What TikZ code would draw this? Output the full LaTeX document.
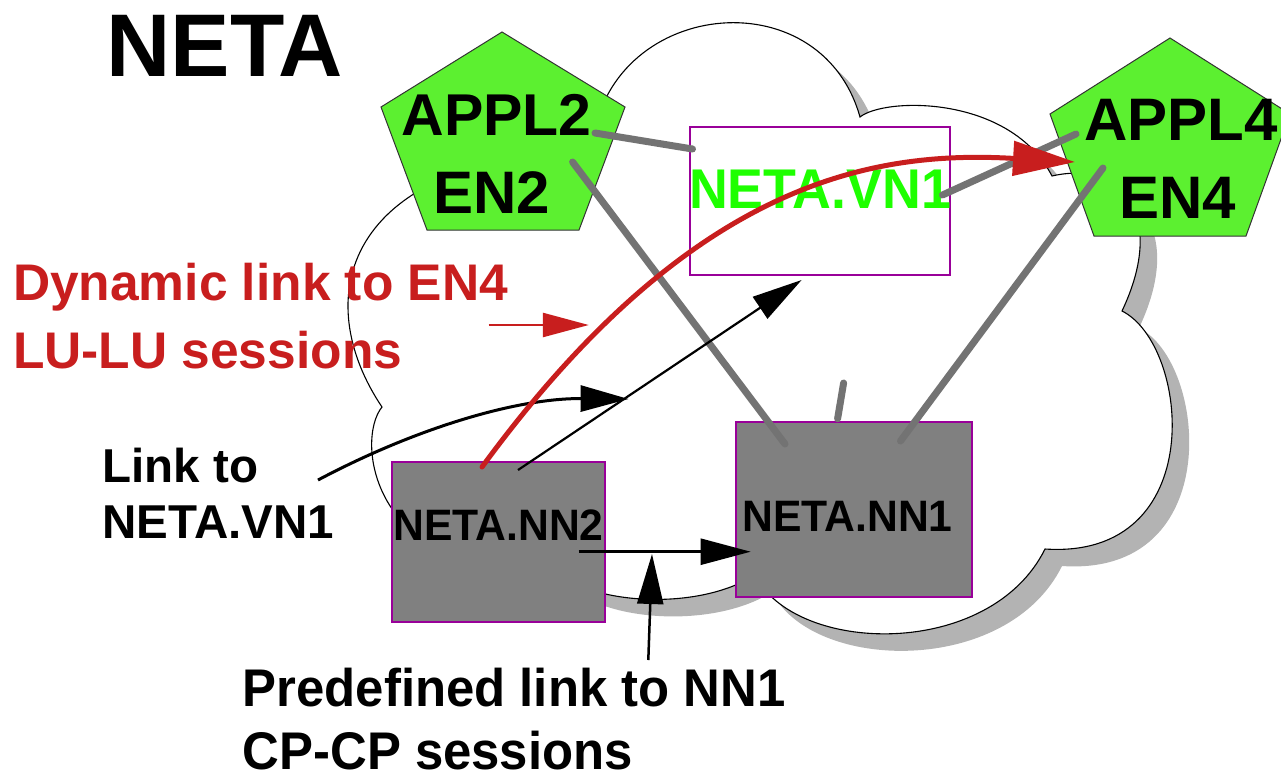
\documentclass[tikz,border=0pt]{standalone}
\usepackage{fontspec}
\setmainfont{Liberation Sans}
\usetikzlibrary{arrows.meta,calc}

\definecolor{cloudshadow}{RGB}{179,179,179}
\definecolor{boxpurple}{RGB}{153,0,153}
\definecolor{nodegray}{RGB}{128,128,128}
\definecolor{linkgray}{RGB}{115,115,115}
\definecolor{penfill}{RGB}{92,240,48}
\definecolor{vngreen}{RGB}{30,255,0}
\definecolor{dynred}{RGB}{200,30,30}

\newcommand\fsz[1]{\fontsize{#1}{#1}\selectfont\bfseries}
\newcommand\squeeze[2]{\scalebox{#1}[1]{#2}}

% outline of the network cloud (one bump per curve segment)
\newcommand\cloudpath{(592,148) .. controls (605.7,-0.2) and (820,-25) .. (860,117)
  .. controls (885,97) and (1010,95) .. (1052,176)
  .. controls (1120,160) and (1168,214) .. (1122,311)
  .. controls (1190,345) and (1210,560) .. (1045,549)
  .. controls (990,660) and (795,655) .. (755,575)
  .. controls (700,610) and (600,605) .. (560,575)
  .. controls (370,580) and (355,440) .. (382,407)
  .. controls (310,300) and (340,160) .. (592,148) -- cycle}

\begin{document}
\begin{tikzpicture}[x=1pt,y=-1pt,
  lbl/.style={inner sep=0pt, outer sep=0pt},
  netnode/.style={rectangle, draw=boxpurple, line width=2.5pt, fill=nodegray, inner sep=0pt},
  vnbox/.style={rectangle, draw=boxpurple, line width=2pt, fill=white, inner sep=0pt},
  pent/.style={draw=black!80, line width=1pt, fill=penfill, line join=miter},
  graylink/.style={draw=linkgray, line width=7pt, line cap=round},
  blkarrow/.style={draw=black, line width=2.5pt, -{Triangle[length=50pt,width=26pt]}},
  blkcurve/.style={draw=black, line width=3pt, -{Triangle[length=48pt,width=26pt]}},
  redarc/.style={draw=dynred, line width=5pt, line cap=round, -{Triangle[length=62pt,width=34pt]}},
  redpointer/.style={draw=dynred, line width=2.5pt, -{Triangle[length=46pt,width=24pt]}}
]
\useasboundingbox (0,0) rectangle (1281,777);

% cloud with its drop shadow
\fill[cloudshadow, shift={(17,17)}] \cloudpath;
\filldraw[fill=white, draw=black, line width=1.1pt] \cloudpath;

% nodes of the network
\node[vnbox, minimum width=260pt, minimum height=148pt] (vn1) at (820,201) {};
\node[netnode, minimum width=213pt, minimum height=160pt] (nn2) at (498.5,542) {};
\node[netnode, minimum width=236pt, minimum height=175pt] (nn1) at (854,509.5) {};

% end nodes
\coordinate (pA2) at (503,131);
\coordinate (pA4) at (1170,137);
\draw[pent, shift={(pA2)}] (-1,-99) -- (122,-24) -- (76,99) -- (-76,99) -- (-122,-24) -- cycle;
\draw[pent, shift={(pA4)}] (0,-99) -- (120,-23) -- (76,99) -- (-76,99) -- (-120,-23) -- cycle;

\node[lbl, anchor=base, font={\fsz{59}}] (appl2) at (496.5,135) {APPL2};
\node[lbl, anchor=base, font={\fsz{60}}] (en2) at (491.5,213) {EN2};
\node[lbl, anchor=base, font={\fsz{60}}] (appl4) at (1181,140) {APPL4};
\node[lbl, anchor=base, font={\fsz{60}}] (en4) at (1177.5,218) {EN4};
\node[lbl, anchor=base, font={\fsz{56}}, text=vngreen] (vn1text) at (820,208) {\squeeze{0.96}{NETA.VN1}};
\node[lbl, anchor=base, font={\fsz{44}}] (nn2text) at (498.5,540) {\squeeze{0.97}{NETA.NN2}};
\node[lbl, anchor=base, font={\fsz{44}}] (nn1text) at (847.5,531) {\squeeze{0.97}{NETA.NN1}};

% physical / logical links
\coordinate (stubtop) at (843.6,383);
\draw[graylink] ($(pA2)+(92,2)$) -- ($(vn1)+(-127.5,-52)$);
\draw[graylink] ($(pA2)+(69.6,31)$) -- ($(nn1)+(-69,-65.5)$);
\draw[graylink] ($(vn1)+(122.5,-6)$) -- ($(pA4)+(-94,-3)$);
\draw[graylink] ($(pA4)+(-67,31)$) -- ($(nn1)+(46.5,-68.5)$);
\draw[graylink] ($(nn1.north)+(-16.4,-2)$) -- (stubtop);

% connection arrows
\draw[blkarrow, line width=2.2pt] ($(nn2)+(19.5,-72)$) -- ($(vn1)+(-18.4,79)$);
\draw[blkarrow] ($(nn2)+(80.1,9.7)$) -- ($(nn1)+(-103.3,42.2)$);

% callout pointers
\coordinate (lk) at (318,480);
\coordinate (lkT) at (628.6,399);
\draw[blkcurve] (lk) .. controls +(100,-53) and +(-110,-1) .. (lkT);
\coordinate (cpS) at (648.3,660);
\coordinate (cpT) at (652,554);
\draw[blkarrow] (cpS) -- (cpT);

% dynamic link to EN4
\draw[redarc] ($(nn2)+(-16.5,-75)$) .. controls +(208,-284) and +(-205,-12) .. ($(pA4)+(-95,25)$);
\coordinate (dynS) at (488.7,325);
\coordinate (dynT) at (588.8,325);
\draw[redpointer] (dynS) -- (dynT);

% labels
\node[lbl, anchor=base, font={\fsz{89}}] (title) at (224.5,76) {NETA};
\node[lbl, anchor=base west, font={\fsz{51.5}}, text=dynred] (dyn1) at (13,300) {Dynamic link to EN4};
\node[lbl, anchor=base west, font={\fsz{51.5}}, text=dynred] (dyn2) at (13,368) {LU-LU sessions};
\node[lbl, anchor=base west, font={\fsz{47.5}}] (lnk1) at (102.6,482) {Link to};
\node[lbl, anchor=base west, font={\fsz{47.5}}] (lnk2) at (102.6,538) {NETA.VN1};
\node[lbl, anchor=base west, font={\fsz{53}}] (pre1) at (242.7,706) {\squeeze{0.96}{Predefined link to NN1}};
\node[lbl, anchor=base west, font={\fsz{53}}] (pre2) at (242.7,769) {\squeeze{0.96}{CP-CP sessions}};
\end{tikzpicture}
\end{document}
